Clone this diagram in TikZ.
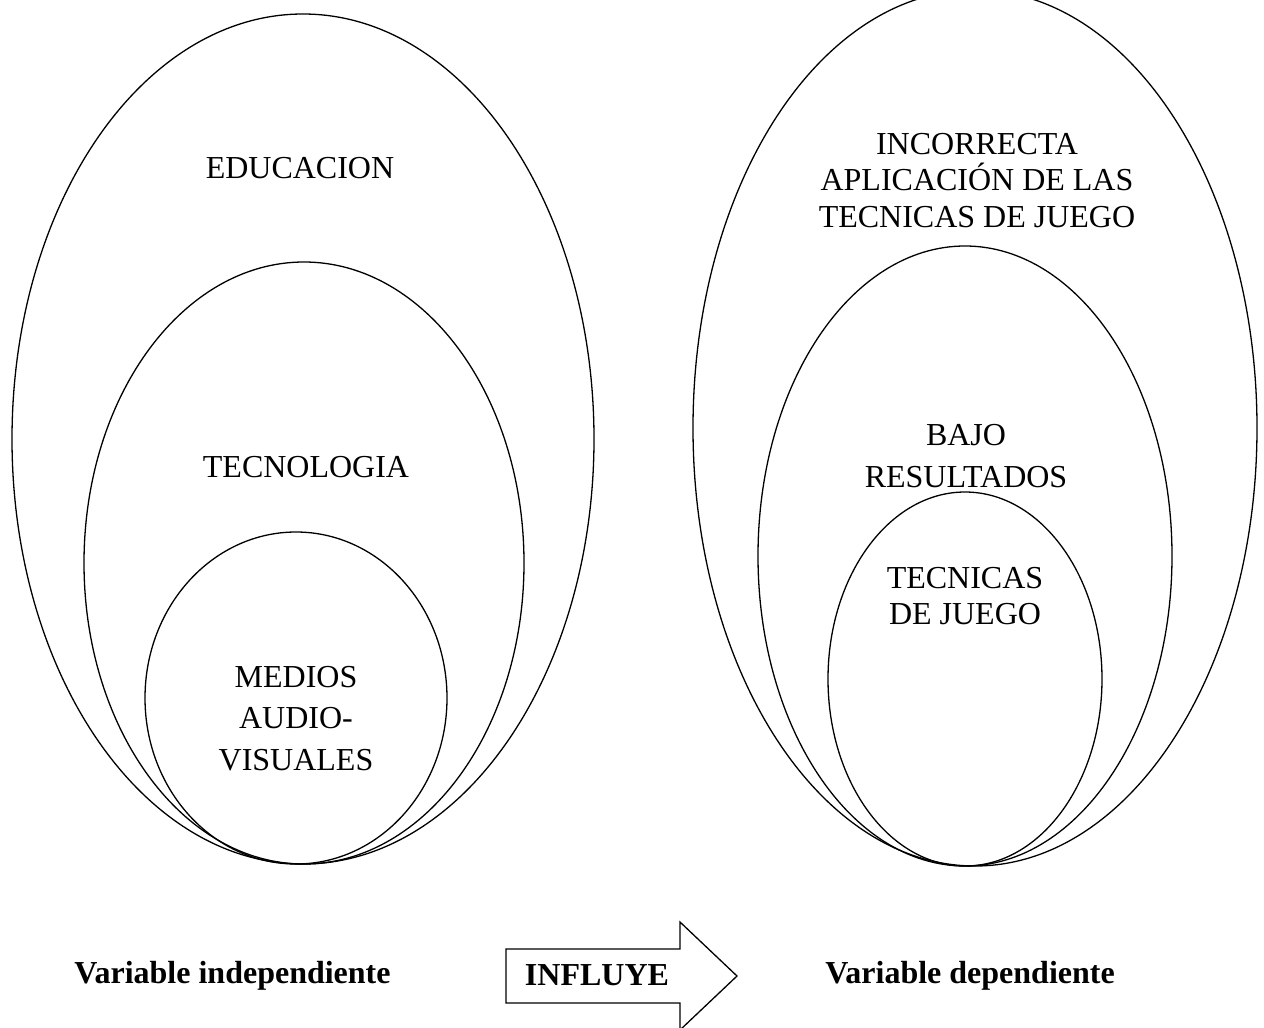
\documentclass[tikz,border=0pt]{standalone}
\usepackage{fontspec}
\setmainfont{Liberation Serif}
\usetikzlibrary{positioning}

\tikzset{
  ring/.style={draw, line width=1.3pt},
  circtext/.style={align=center, inner sep=0pt, font=\fontsize{32}{36.7}\selectfont},
  widetext/.style={align=center, inner sep=0pt, font=\fontsize{32}{41.5}\selectfont},
  vartext/.style={inner sep=0pt, anchor=base, font=\fontsize{32}{36.7}\selectfont\bfseries},
}

\begin{document}
\begin{tikzpicture}[x=1pt,y=-1pt]
                \useasboundingbox (0,0) rectangle (1264,1028);

                % variable independiente
                \draw[ring] (303,439) ellipse [x radius=291, y radius=425];
                \draw[ring] (304,563) ellipse [x radius=220, y radius=301];
                \draw[ring] (296,698) ellipse [x radius=151, y radius=166];

                % variable dependiente
                \draw[ring] (975,428) ellipse [x radius=282, y radius=438];
                \draw[ring] (965,556) ellipse [x radius=207, y radius=310];
                \draw[ring] (965,679) ellipse [x radius=137, y radius=187];

                \node[circtext, anchor=base] (edu)  at (300,178) {EDUCACION};
                \node[circtext, anchor=base] (tec)  at (306,477) {TECNOLOGIA};
                \node[widetext]              (med)  at (296,718.5) {MEDIOS\\AUDIO-\\VISUALES};

                \node[circtext] (inc)  at (977,180.5) {INCORRECTA\\APLICACIÓN DE LAS\\TECNICAS DE JUEGO};
                \node[widetext] (bajo) at (966,456)   {BAJO\\RESULTADOS};
                \node[circtext] (tj)   at (965,596)   {TECNICAS\\DE JUEGO};

                % flecha
                \draw[line width=1.3pt] (506,949) -- (680,949) -- (680,922) -- (737,976)
                      -- (680,1030) -- (680,1003) -- (506,1003) -- cycle;

                \node[vartext] (indep) at (232.5,983) {Variable independiente};
                \node[vartext] (infl)  at (597,985)   {INFLUYE};
                \node[vartext] (dep)   at (970,983)   {Variable dependiente};
            \end{tikzpicture}
\end{document}
